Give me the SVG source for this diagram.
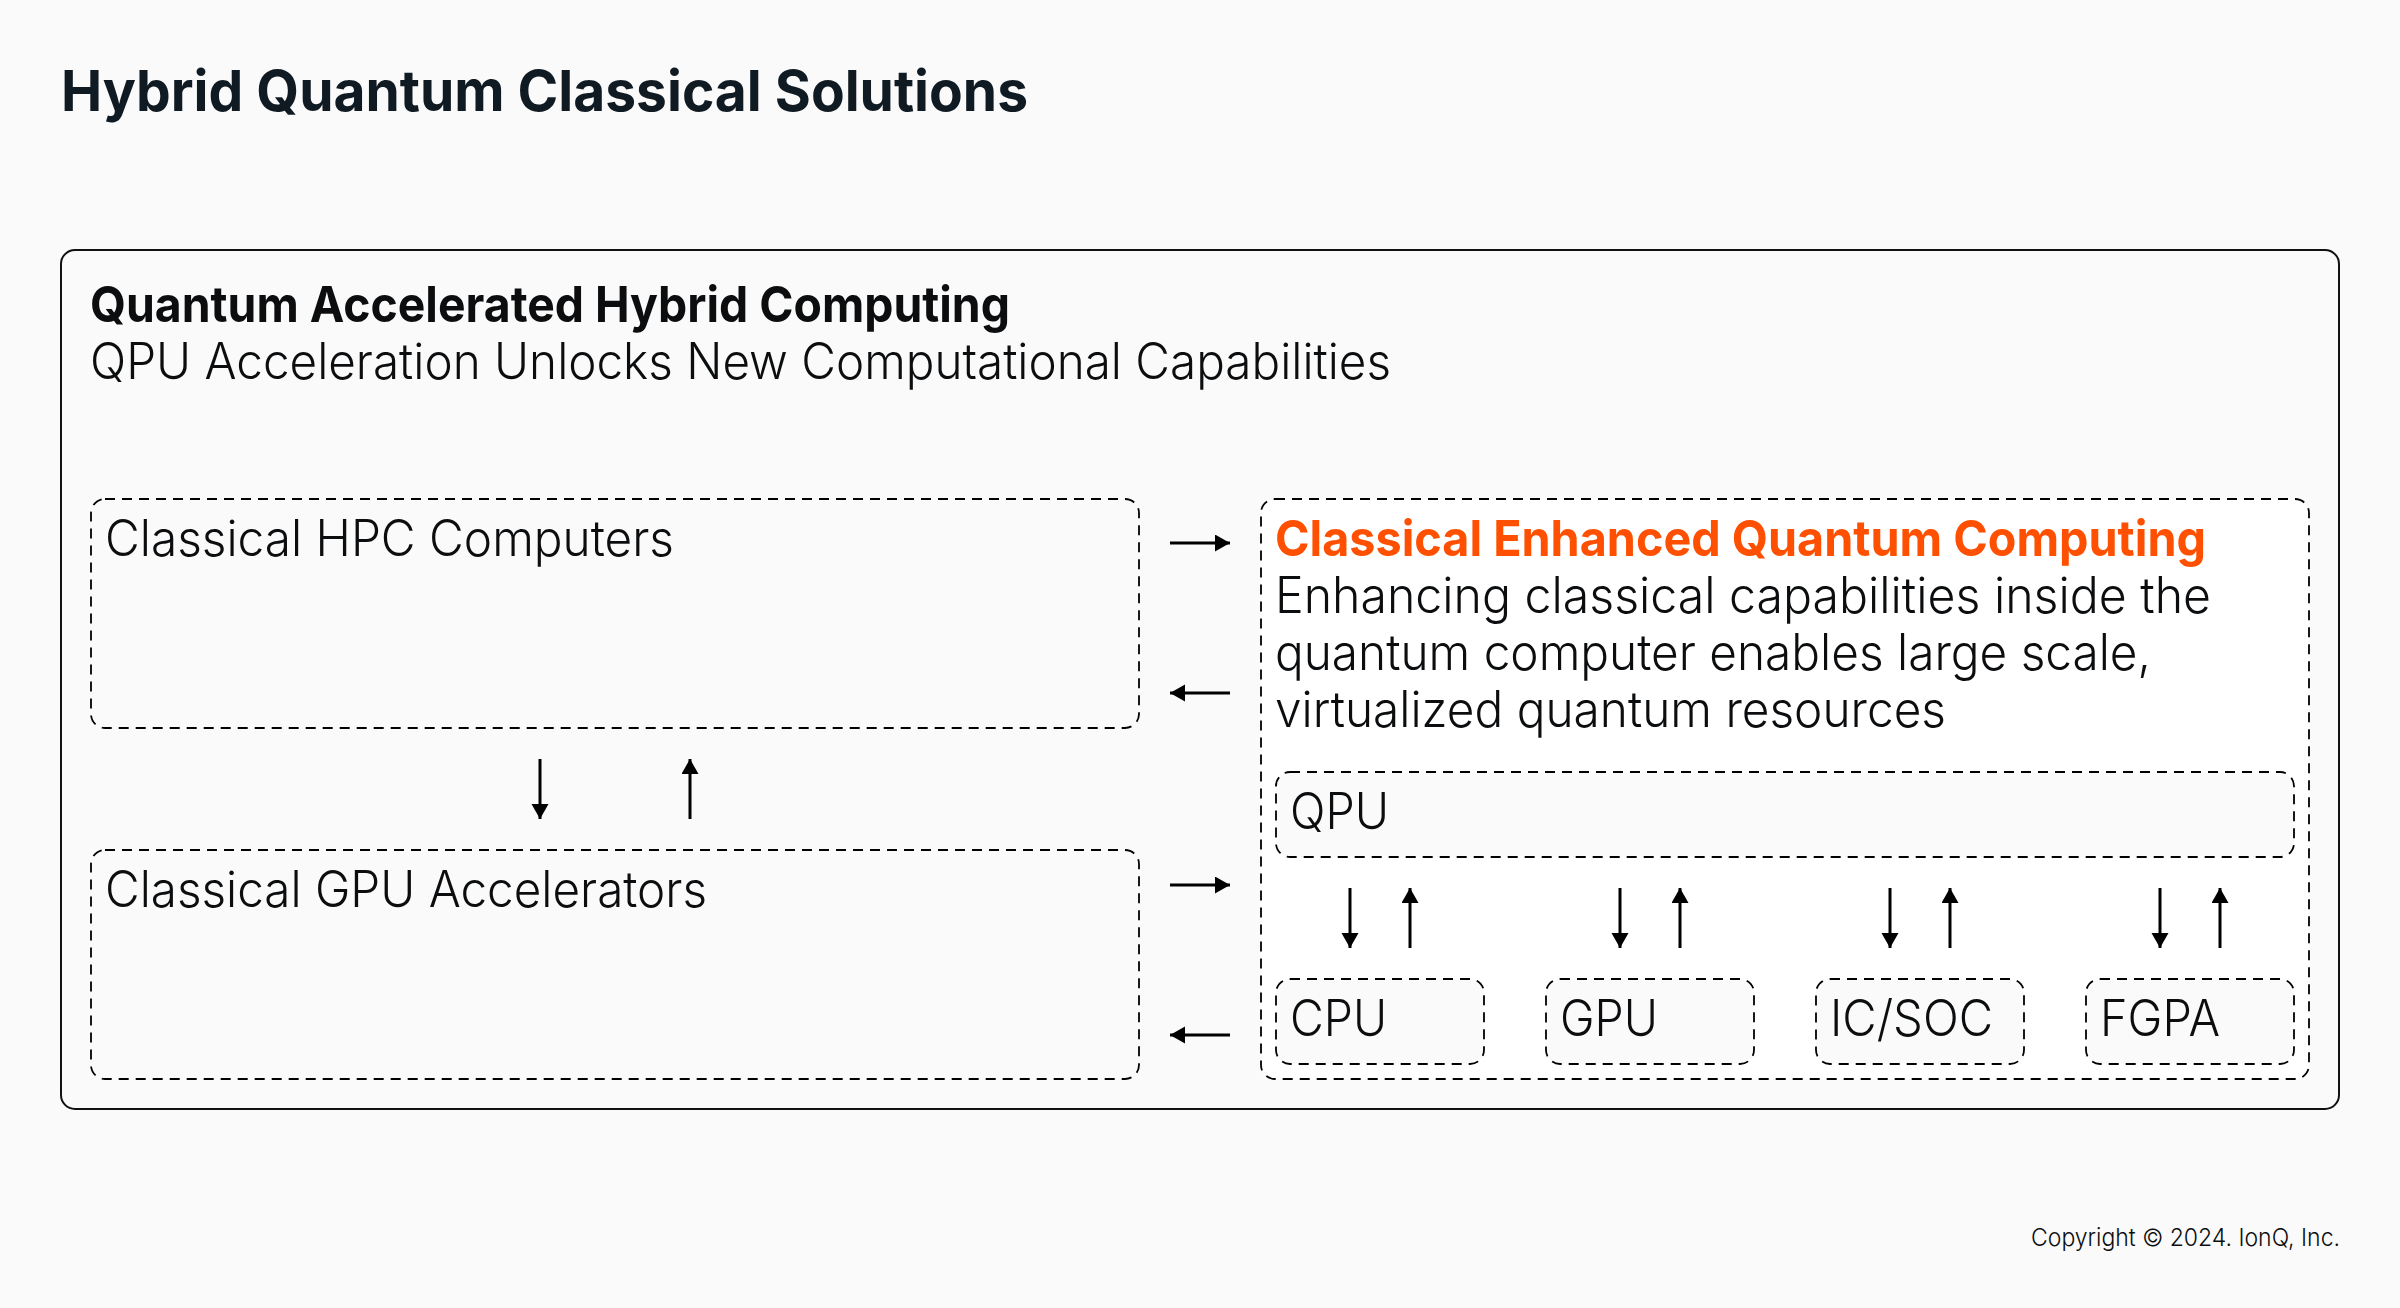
<svg xmlns="http://www.w3.org/2000/svg" width="2400" height="1308" viewBox="0 0 2400 1308">
<style>
text{font-family:Inter,"Noto Sans","Liberation Sans",sans-serif;fill:#0b0d0f}
.t{font-size:50px;font-weight:300}
.b{font-size:50px;font-weight:700}
.d{fill:#fafafa;stroke:#000;stroke-width:1.8;stroke-dasharray:10 7}
.a{stroke:#000;stroke-width:3;fill:none;marker-end:url(#h)}
</style>
<defs><marker id="h" markerUnits="userSpaceOnUse" markerWidth="18" markerHeight="18" refX="15" refY="8.5" orient="auto"><path d="M0 0L15 8.5L0 17Z" fill="#000"/></marker></defs>
<rect width="2400" height="1308" fill="#fafafa"/>
<text id="title" x="61" y="111" font-size="56" font-weight="700" style="fill:#101a22" textLength="967" lengthAdjust="spacingAndGlyphs">Hybrid Quantum Classical Solutions</text>
<g id="outer">
<rect x="61" y="250" width="2278" height="859" rx="14" fill="#fafafa" stroke="#111" stroke-width="2"/>
<text class="b" x="90" y="322" textLength="920" lengthAdjust="spacingAndGlyphs">Quantum Accelerated Hybrid Computing</text>
<text class="t" x="90" y="379" textLength="1301" lengthAdjust="spacingAndGlyphs">QPU Acceleration Unlocks New Computational Capabilities</text>
</g>
<g id="hpc"><rect class="d" x="91" y="499" width="1048" height="229" rx="14"/>
<text class="t" x="105" y="556" textLength="569" lengthAdjust="spacingAndGlyphs">Classical HPC Computers</text></g>
<g id="gpu-acc"><rect class="d" x="91" y="850" width="1048" height="229" rx="14"/>
<text class="t" x="105" y="907" textLength="602" lengthAdjust="spacingAndGlyphs">Classical GPU Accelerators</text></g>
<g id="enhanced"><rect class="d" x="1261" y="499" width="1048" height="580" rx="14" style="fill:#fff"/>
<text class="b" x="1275" y="556" style="fill:#fe5000" textLength="931" lengthAdjust="spacingAndGlyphs">Classical Enhanced Quantum Computing</text>
<text class="t" x="1275" y="613" textLength="936" lengthAdjust="spacingAndGlyphs">Enhancing classical capabilities inside the</text>
<text class="t" x="1275" y="670" textLength="876" lengthAdjust="spacingAndGlyphs">quantum computer enables large scale,</text>
<text class="t" x="1275" y="727" textLength="671" lengthAdjust="spacingAndGlyphs">virtualized quantum resources</text></g>
<g id="qpu"><rect class="d" x="1276" y="772" width="1018" height="85" rx="14"/>
<text class="t" x="1290" y="829" textLength="99" lengthAdjust="spacingAndGlyphs">QPU</text></g>
<g id="cpu"><rect class="d" x="1276" y="979" width="208" height="85" rx="14"/>
<text class="t" x="1290" y="1036" textLength="97" lengthAdjust="spacingAndGlyphs">CPU</text></g>
<g id="gpu"><rect class="d" x="1546" y="979" width="208" height="85" rx="14"/>
<text class="t" x="1560" y="1036" textLength="98" lengthAdjust="spacingAndGlyphs">GPU</text></g>
<g id="ic"><rect class="d" x="1816" y="979" width="208" height="85" rx="14"/>
<text class="t" x="1830" y="1036" textLength="163" lengthAdjust="spacingAndGlyphs">IC/SOC</text></g>
<g id="fgpa"><rect class="d" x="2086" y="979" width="208" height="85" rx="14"/>
<text class="t" x="2100" y="1036" textLength="120" lengthAdjust="spacingAndGlyphs">FGPA</text></g>
<g id="connectors">
<path class="a" d="M540 759V819"/><path class="a" d="M690 819V759"/>
<path class="a" d="M1170 543H1230"/><path class="a" d="M1230 693H1170"/>
<path class="a" d="M1170 885H1230"/><path class="a" d="M1230 1035H1170"/>
<path class="a" d="M1350 888V948"/><path class="a" d="M1410 948V888"/>
<path class="a" d="M1620 888V948"/><path class="a" d="M1680 948V888"/>
<path class="a" d="M1890 888V948"/><path class="a" d="M1950 948V888"/>
<path class="a" d="M2160 888V948"/><path class="a" d="M2220 948V888"/>
</g>
<text id="copyright" x="2031" y="1246" font-size="24" font-weight="300" textLength="309" lengthAdjust="spacingAndGlyphs">Copyright © 2024. IonQ, Inc.</text>
</svg>
